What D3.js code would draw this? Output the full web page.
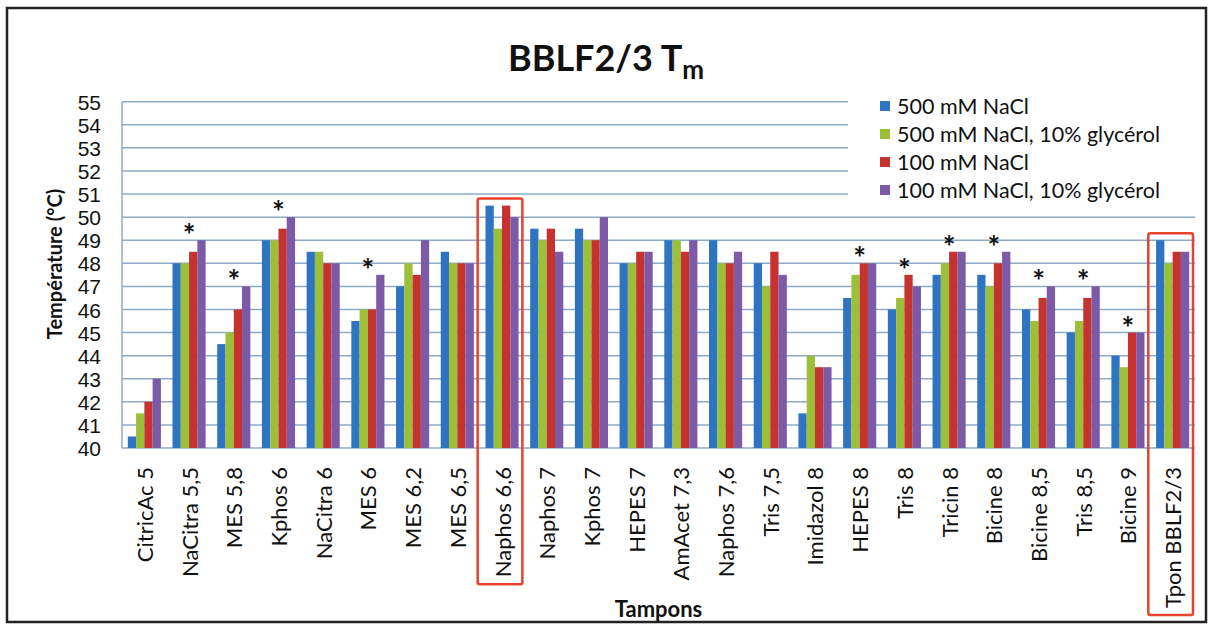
<!DOCTYPE html>
<html>
<head>
<meta charset="utf-8">
<style>
    body { margin: 0; background: #fff; }
    svg { display: block; font-family: Lato, "Open Sans", sans-serif; }
    .grid line { stroke: #8eaac4; stroke-width: 1.5; }
    .y .tick text { font-size: 21px; fill: #111; }
    .y .domain, .y .tick line { display: none; }
    .xlab { font-size: 22px; fill: #111; }
    .axis-title { font-weight: bold; font-size: 20px; fill: #111; }
    .legend text { font-size: 21.5px; fill: #111; }
    .star { font-size: 30px; font-weight: bold; fill: #111; }
</style>
</head>
<body>
<svg width="1212" height="629"></svg>
<script src="https://d3js.org/d3.v7.min.js"></script>
<script>

let buffers = ["CitricAc 5", "NaCitra 5,5", "MES 5,8", "Kphos 6", "NaCitra 6", "MES 6",
    "MES 6,2", "MES 6,5", "Naphos 6,6", "Naphos 7", "Kphos 7", "HEPES 7", "AmAcet 7,3",
    "Naphos 7,6", "Tris 7,5", "Imidazol 8", "HEPES 8", "Tris 8", "Tricin 8", "Bicine 8",
    "Bicine 8,5", "Tris 8,5", "Bicine 9", "Tpon BBLF2/3"]

let series = ["500 mM NaCl", "500 mM NaCl, 10% glycérol", "100 mM NaCl", "100 mM NaCl, 10% glycérol"]
let colors = ["#2f74c2", "#9cbf38", "#c6322d", "#7d5aa7"]

let na500 =      [40.5, 48, 44.5, 49, 48.5, 45.5, 47, 48.5, 50.5, 49.5, 49.5, 48, 49, 49, 48, 41.5, 46.5, 46, 47.5, 47.5, 46, 45, 44, 49]
let na500gly =   [41.5, 48, 45, 49, 48.5, 46, 48, 48, 49.5, 49, 49, 48, 49, 48, 47, 44, 47.5, 46.5, 48, 47, 45.5, 45.5, 43.5, 48]
let na100 =      [42, 48.5, 46, 49.5, 48, 46, 47.5, 48, 50.5, 49.5, 49, 48.5, 48.5, 48, 48.5, 43.5, 48, 47.5, 48.5, 48, 46.5, 46.5, 45, 48.5]
let na100gly =   [43, 49, 47, 50, 48, 47.5, 49, 48, 50, 48.5, 50, 48.5, 49, 48.5, 47.5, 43.5, 48, 47, 48.5, 48.5, 47, 47, 45, 48.5]

let yTicks = d3.range(40, 56, 1)
let starred = ["NaCitra 5,5", "MES 5,8", "Kphos 6", "MES 6", "HEPES 8", "Tris 8", "Tricin 8",
    "Bicine 8", "Bicine 8,5", "Tris 8,5", "Bicine 9"]
let boxed = ["Naphos 6,6", "Tpon BBLF2/3"]

let values = [na500, na500gly, na100, na100gly]
let rows = buffers.map((b, i) => ({ name: b, vals: values.map(v => v[i]) }))

let svg = d3.select("svg")

// outer frame
svg.append("rect")
    .attr("x", 7).attr("y", 8).attr("width", 1199).attr("height", 614)
    .attr("fill", "none").attr("stroke", "#222").attr("stroke-width", 2.5)

let plotLeft = 122, plotRight = 1195, plotTop = 101.7, plotBottom = 448

let x = d3.scaleBand().domain(buffers).range([plotLeft, plotRight])
let y = d3.scaleLinear().domain([40, 55]).range([plotBottom, plotTop])
let inner = d3.scaleBand().domain(d3.range(4))
    .range([0, x.bandwidth()]).paddingOuter(0.7)

// grid
svg.append("g").attr("class", "grid")
    .selectAll("line")
    .data(yTicks)
    .join("line")
    .attr("x1", plotLeft).attr("x2", plotRight)
    .attr("y1", d => y(d)).attr("y2", d => y(d))

svg.append("line")
    .attr("x1", plotLeft).attr("x2", plotLeft).attr("y1", plotTop).attr("y2", plotBottom)
    .attr("stroke", "#8eaac4").attr("stroke-width", 1.5)

// y axis
svg.append("g")
    .attr("class", "y")
    .attr("transform", `translate(${plotLeft - 21}, 0)`)
    .call(d3.axisLeft(y).tickValues(yTicks).tickSize(0).tickPadding(0).tickFormat(d3.format("d")))
    .selectAll("text").attr("dy", "0.36em")

// bars
let groups = svg.append("g")
    .selectAll("g")
    .data(rows)
    .join("g")
    .attr("transform", d => `translate(${x(d.name)}, 0)`)

groups.selectAll("rect")
    .data(d => d.vals.map((v, k) => ({ v, k })))
    .join("rect")
    .attr("x", d => inner(d.k))
    .attr("width", inner.bandwidth())
    .attr("y", d => y(d.v))
    .attr("height", d => plotBottom - y(d.v))
    .attr("fill", d => colors[d.k])

// stars
svg.append("g")
    .selectAll("text")
    .data(rows.filter(d => starred.includes(d.name)))
    .join("text")
    .attr("class", "star")
    .attr("text-anchor", "middle")
    .attr("x", d => x(d.name) + x.bandwidth() / 2)
    .attr("y", d => y(d3.max(d.vals)) + 6)
    .text("*")

// x labels
let xlabs = svg.append("g")
    .selectAll("text")
    .data(buffers)
    .join("text")
    .attr("class", "xlab")
    .attr("text-anchor", "end")
    .attr("dominant-baseline", "central")
    .attr("transform", d => `translate(${x(d) + x.bandwidth() / 2}, ${plotBottom + 19}) rotate(-90)`)
    .text(d => d)

// highlighted boxes
xlabs.filter(d => boxed.includes(d)).each(function (d) {
    let bb = this.getBBox()
    let row = rows.find(r => r.name == d)
    let y0 = y(d3.max(row.vals)) - 7
    let y1 = Math.min(plotBottom + 19 + bb.width + 7, 620)
    svg.append("rect")
        .attr("x", x(d) - 2).attr("width", x.bandwidth())
        .attr("y", y0).attr("height", y1 - y0)
        .attr("rx", 2)
        .attr("fill", "none").attr("stroke", "#e8412e").attr("stroke-width", 2.5)
})

// legend
let legend = svg.append("g").attr("class", "legend")
legend.append("rect")
    .attr("x", 848).attr("y", 88).attr("width", 350).attr("height", 115)
    .attr("fill", "#fff")
series.forEach((s, i) => {
    let ly = 106 + i * 28
    legend.append("rect")
        .attr("x", 880).attr("y", ly - 5).attr("width", 10).attr("height", 10)
        .attr("fill", colors[i])
    legend.append("text")
        .attr("x", 897).attr("y", ly)
        .attr("dy", "0.36em")
        .text(s)
})

// titles
let title = svg.append("text")
    .attr("x", 606).attr("y", 71)
    .attr("text-anchor", "middle")
    .style("font-size", "36px").style("font-weight", "bold").style("fill", "#111")
title.append("tspan").text("BBLF2/3 T")
title.append("tspan").attr("dy", 8).style("font-size", "26px").text("m")

svg.append("text")
    .attr("class", "axis-title")
    .attr("text-anchor", "middle")
    .attr("transform", "translate(55, 264) rotate(-90)")
    .attr("dy", "0.35em")
    .text("Température (°C)")

svg.append("text")
    .attr("class", "axis-title")
    .attr("text-anchor", "middle")
    .style("font-size", "22px")
    .attr("x", (plotLeft + plotRight) / 2).attr("y", 617)
    .text("Tampons")

</script>
</body>
</html>
